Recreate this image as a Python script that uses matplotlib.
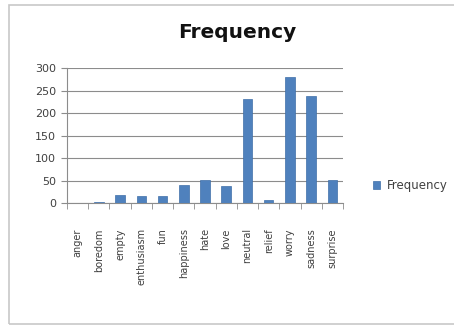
import matplotlib
matplotlib.use("Agg")
import matplotlib.pyplot as plt
from matplotlib.patches import Rectangle
import numpy as np

categories = ["anger", "boredom", "empty", "enthusiasm", "fun", "happiness",
              "hate", "love", "neutral", "relief", "worry", "sadness", "surprise"]
frequency = [1, 3, 19, 16, 16, 40, 51, 39, 231, 8, 281, 239, 51]
y_ticks = [0, 50, 100, 150, 200, 250, 300]

plt.rcParams["font.family"] = ["DejaVu Sans"]

fig = plt.figure(figsize=(4.54, 3.27), dpi=100)
fig.patch.set_facecolor("white")

# light outer chart frame
frame = Rectangle((9 / 454, 3 / 327), 1.2, 1 - 8 / 327, transform=fig.transFigure,
                  fill=False, edgecolor="#c8c8c8", linewidth=1.2)
fig.patches.append(frame)

ax = fig.add_axes([67 / 454, 123.7 / 327, 276 / 454, 135 / 327])
x = np.arange(len(categories))
bars = ax.bar(x, frequency, width=0.45, color="#4f81bd", edgecolor="#3f6fa8",
              linewidth=0.5, label="Frequency", zorder=3)

ax.set_xlim(-0.5, len(categories) - 0.5)
ax.set_ylim(0, 300)
ax.set_yticks(y_ticks)
ax.set_yticklabels([str(v) for v in y_ticks], fontsize=8, color="#404040")
ax.yaxis.grid(True, color="#8c8c8c", linewidth=0.8, zorder=0)
ax.set_axisbelow(True)

ax.set_xticks(x)
ax.set_xticklabels(categories, rotation=90, fontsize=7, color="#404040")
ax.tick_params(axis="x", length=0, pad=18)
ax.set_xticks(np.arange(-0.5, len(categories)), minor=True)
ax.tick_params(axis="x", which="minor", length=4, color="#8c8c8c", direction="out")
ax.tick_params(axis="y", length=4, color="#8c8c8c", direction="out", pad=4)

for side in ["top", "right"]:
    ax.spines[side].set_visible(False)
ax.spines["left"].set_color("#8c8c8c")
ax.spines["bottom"].set_color("#8c8c8c")

fig.text(237 / 454, 1 - 33 / 327, "Frequency", ha="center", va="center",
         fontsize=14.5, fontweight="bold", color="#111111")

leg = ax.legend(handles=[bars], labels=["Frequency"], loc="center left",
                bbox_to_anchor=(1.07, 0.13), frameon=False, fontsize=8.5,
                handlelength=0.6, handleheight=0.6, handletextpad=0.6)
for t in leg.get_texts():
    t.set_color("#404040")

fig.savefig("out.png", dpi=100, facecolor="white")
